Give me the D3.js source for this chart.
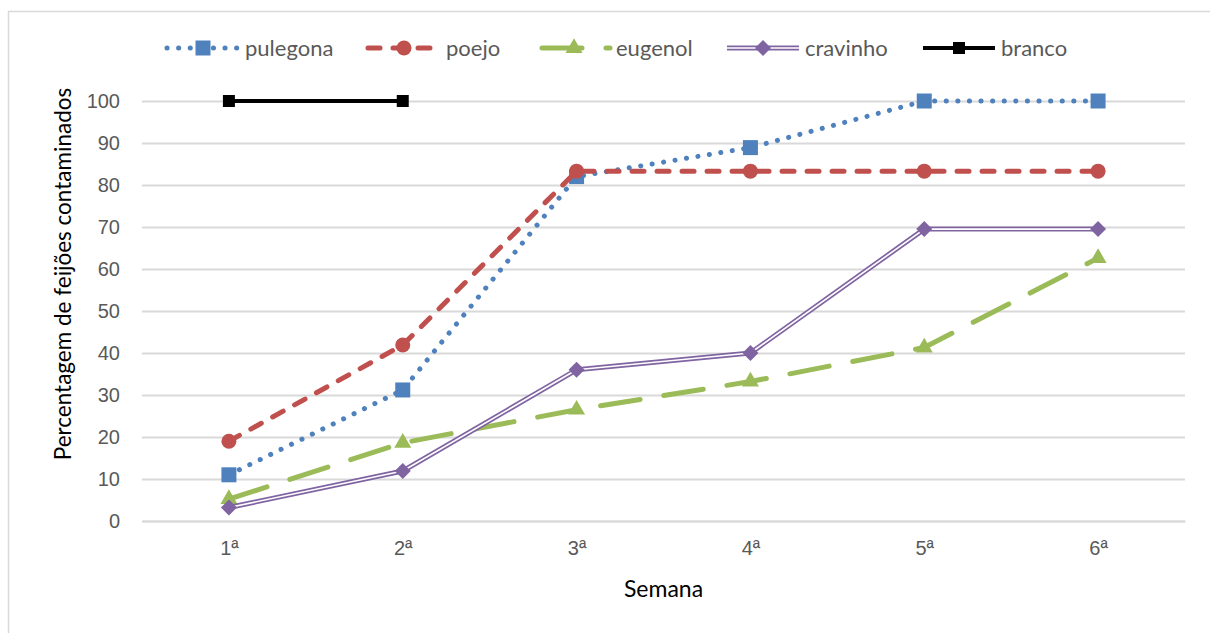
<!DOCTYPE html>
<html>
<head>
<meta charset="utf-8">
<script src="https://cdnjs.cloudflare.com/ajax/libs/d3/7.8.5/d3.min.js"></script>
<style>
  body { margin: 0; background: #fff; }
  svg { display: block; font-family: Lato, "Open Sans", sans-serif; }
</style>
</head>
<body>
<div id="wrapper"></div>
<script>
'use strict';

// data
const weeks = ['1ª', '2ª', '3ª', '4ª', '5ª', '6ª'];
const pulegona = [11, 31.2, 82, 88.9, 100, 100];
const poejo = [19, 41.9, 83.3, 83.3, 83.3, 83.3];
const eugenol = [5.2, 18.6, 26.5, 33.2, 41.3, 62.6];
const cravinho = [3.2, 11.9, 36, 40, 69.5, 69.5];
const branco = [100, 100];
const yTicks = [0, 10, 20, 30, 40, 50, 60, 70, 80, 90, 100];

const seriesNames = ['pulegona', 'poejo', 'eugenol', 'cravinho', 'branco'];
const seriesValues = [pulegona, poejo, eugenol, cravinho, branco];

// styles per series
const styles = {
  pulegona: { color: '#4f81bd', width: 5, dash: '0.1 11.5', cap: 'round', marker: 'square', size: 15 },
  poejo: { color: '#c0504d', width: 5, dash: '12 13', cap: 'round', marker: 'circle', size: 15 },
  eugenol: { color: '#9bbb59', width: 5, dash: '40 24', cap: 'round', marker: 'triangle', size: 17 },
  cravinho: { color: '#8064a2', width: 5, dash: null, cap: 'butt', marker: 'diamond', size: 16, double: true },
  branco: { color: '#000000', width: 4, dash: null, cap: 'butt', marker: 'square', size: 12 },
};

const dimensions = {
  width: 1210,
  height: 633,
  margin: { top: 101, right: 25, bottom: 112, left: 142 },
};
dimensions.boundedWidth = dimensions.width - dimensions.margin.left - dimensions.margin.right;
dimensions.boundedHeight = dimensions.height - dimensions.margin.top - dimensions.margin.bottom;

const xScale = d3.scalePoint()
  .domain(weeks)
  .range([0, dimensions.boundedWidth])
  .padding(0.5);

const yScale = d3.scaleLinear()
  .domain([0, 100])
  .range([dimensions.boundedHeight, 0]);

const wrapper = d3.select('#wrapper')
  .append('svg')
  .attr('width', dimensions.width)
  .attr('height', dimensions.height);

// chart border
wrapper.append('rect')
  .attr('x', 8.5)
  .attr('y', 11.5)
  .attr('width', 1230)
  .attr('height', 660)
  .attr('fill', 'none')
  .attr('stroke', '#d9d9d9')
  .attr('stroke-width', 1.5);

const bounds = wrapper.append('g')
  .attr('transform', `translate(${dimensions.margin.left}, ${dimensions.margin.top})`);

// gridlines
const yAxisGenerator = d3.axisLeft(yScale)
  .tickValues(yTicks)
  .tickSize(-dimensions.boundedWidth)
  .tickPadding(22);

const yAxis = bounds.append('g').call(yAxisGenerator);
yAxis.select('.domain').remove();
yAxis.selectAll('line').attr('stroke', '#d9d9d9').attr('stroke-width', 2);
yAxis.selectAll('text')
  .attr('fill', '#595959')
  .style('font-size', '20px');

const xAxisGenerator = d3.axisBottom(xScale).tickSize(0).tickPadding(20);
const xAxis = bounds.append('g')
  .attr('transform', `translate(0, ${dimensions.boundedHeight})`)
  .call(xAxisGenerator);
xAxis.select('.domain').attr('stroke', '#d9d9d9').attr('stroke-width', 2);
xAxis.selectAll('text')
  .attr('fill', '#595959')
  .style('font-size', '20px');

// axis titles
wrapper.append('text')
  .attr('x', dimensions.margin.left + dimensions.boundedWidth / 2)
  .attr('y', 597)
  .attr('text-anchor', 'middle')
  .style('font-size', '23px')
  .attr('fill', '#000')
  .text('Semana');

wrapper.append('text')
  .attr('transform', `translate(71, ${dimensions.margin.top + dimensions.boundedHeight / 2 - 37}) rotate(-90)`)
  .attr('text-anchor', 'middle')
  .style('font-size', '22.5px')
  .attr('fill', '#000')
  .text('Percentagem de feijões contaminados');

// marker shapes
const symbolFor = {
  square: d3.symbolSquare,
  circle: d3.symbolCircle,
  triangle: d3.symbolTriangle,
};

function markerPath (s) {
  if (s.marker === 'diamond') {
    const h = s.size / 2;
    return `M0,${-h}L${h},0L0,${h}L${-h},0Z`;
  }
  const area = s.marker === 'circle' ? Math.PI * (s.size / 2) ** 2
    : s.marker === 'square' ? s.size * s.size
    : s.size * s.size * 0.433;
  return d3.symbol(symbolFor[s.marker], area)();
}

function drawLine (g, points, s, offset) {
  const lineGenerator = d3.line().x(d => d[0]).y(d => d[1]);
  g.append('path')
    .attr('d', lineGenerator(points))
    .attr('fill', 'none')
    .attr('stroke', s.color)
    .attr('stroke-width', s.width)
    .attr('stroke-linecap', s.cap)
    .attr('stroke-linejoin', 'round')
    .attr('stroke-dasharray', s.dash)
    .attr('stroke-dashoffset', offset || 0);
  if (s.double) {
    g.append('path')
      .attr('d', lineGenerator(points))
      .attr('fill', 'none')
      .attr('stroke', '#fff')
      .attr('stroke-width', 1.6)
      .attr('stroke-linejoin', 'round');
  }
}

function drawMarker (g, x, y, s) {
  g.append('path')
    .attr('d', markerPath(s))
    .attr('transform', `translate(${x}, ${y})`)
    .attr('fill', s.color);
}

// series
seriesNames.forEach((name, i) => {
  const s = styles[name];
  const g = bounds.append('g');
  const points = seriesValues[i].map((v, j) => [xScale(weeks[j]), yScale(v)]);
  drawLine(g, points, s);
  points.forEach(p => drawMarker(g, p[0], p[1], s));
});

// legend
const legendX = [167, 368, 538, 727, 923];
const legendOffset = [0, 0, -4, 0, 0];
const legendY = 48;
const symbolLength = 72;
seriesNames.forEach((name, i) => {
  const s = styles[name];
  const g = wrapper.append('g');
  const x0 = legendX[i];
  drawLine(g, [[x0, legendY], [x0 + symbolLength, legendY]], s, legendOffset[i]);
  drawMarker(g, x0 + symbolLength / 2, legendY, s);
  g.append('text')
    .attr('x', x0 + symbolLength + 6)
    .attr('y', legendY)
    .attr('dy', '0.35em')
    .attr('fill', '#595959')
    .style('font-size', '22px')
    .text(name);
});
</script>
</body>
</html>
